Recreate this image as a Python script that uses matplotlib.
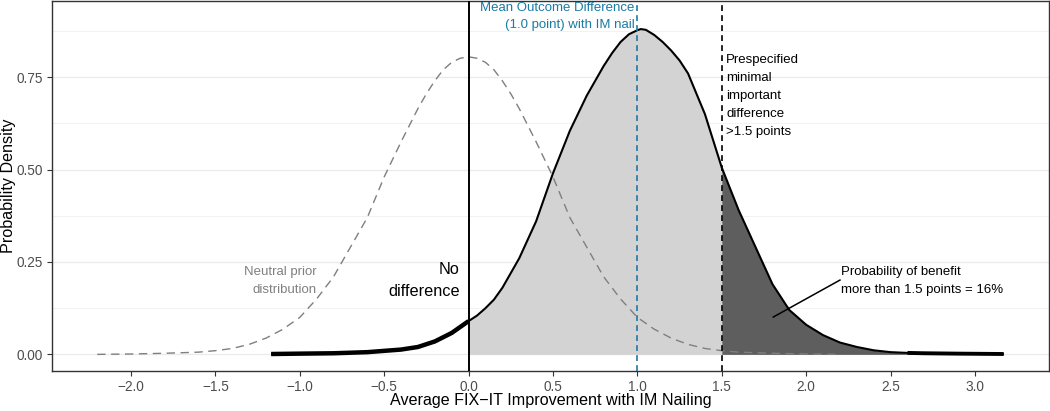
import numpy as np
import matplotlib
matplotlib.use('Agg')
import matplotlib.pyplot as plt

plt.rcParams['font.family'] = ['Liberation Sans', 'DejaVu Sans']

# neutral prior
prior_x = [-2.2, -2.0, -1.8, -1.6, -1.5, -1.4, -1.3, -1.2, -1.1, -1.0, -0.9, -0.8,
           -0.7, -0.6, -0.5, -0.4, -0.3, -0.25, -0.2, -0.15, -0.1, -0.05, 0.0,
           0.05, 0.1, 0.15, 0.2, 0.25, 0.3, 0.4,
           0.5, 0.6, 0.7, 0.8, 0.9, 1.0, 1.1, 1.2, 1.3, 1.4, 1.5, 1.6, 1.8, 2.0, 2.2]
prior_y = [0.000, 0.001, 0.003, 0.006, 0.010, 0.016, 0.027, 0.044, 0.068, 0.100, 0.150, 0.210,
           0.290, 0.370, 0.480, 0.575, 0.665, 0.705, 0.740, 0.770, 0.790, 0.801, 0.805,
           0.801, 0.790, 0.770, 0.740, 0.705, 0.665, 0.575,
           0.480, 0.370, 0.290, 0.210, 0.150, 0.100, 0.068, 0.044, 0.027, 0.016, 0.010, 0.006,
           0.003, 0.001, 0.000]

# posterior density
post_x = [-1.17, -1.0, -0.8, -0.6, -0.4, -0.3, -0.2, -0.1, 0.0, 0.05, 0.1, 0.15, 0.2, 0.3, 0.4,
          0.5, 0.6, 0.7, 0.8, 0.85, 0.9, 0.95, 1.0, 1.02, 1.05, 1.1, 1.15, 1.2, 1.25,
          1.3, 1.4, 1.5, 1.6, 1.7, 1.8, 1.9, 2.0, 2.1, 2.2, 2.3, 2.4, 2.5, 2.6, 2.7, 2.9, 3.17]
post_y = [0.001, 0.002, 0.003, 0.006, 0.013, 0.020, 0.035, 0.058, 0.090, 0.105, 0.125, 0.148, 0.180,
          0.260, 0.360, 0.490, 0.605, 0.700, 0.780, 0.815, 0.845, 0.866, 0.877, 0.880, 0.878, 0.864,
          0.845, 0.822, 0.795, 0.760, 0.650, 0.505, 0.390, 0.290, 0.190, 0.120, 0.080, 0.052, 0.032,
          0.020, 0.011, 0.006, 0.004, 0.003, 0.002, 0.001]

mean_diff = 1.0
mid = 1.5
xticks = [-2.0, -1.5, -1.0, -0.5, 0.0, 0.5, 1.0, 1.5, 2.0, 2.5, 3.0]
yticks = [0.0, 0.25, 0.5, 0.75]

blue = '#1A7BA3'
px = np.array(post_x)
py = np.array(post_y)

fig = plt.figure(figsize=(10.5, 4.11), dpi=100)
ax = fig.add_axes([0.0495, 0.0973, 0.9495, 0.9003])

# grid
for y in yticks:
    ax.axhline(y, color='#EBEBEB', lw=1.0, zorder=0)
for y in [0.125, 0.375, 0.625, 0.875]:
    ax.axhline(y, color='#F2F2F2', lw=0.7, zorder=0)

# shaded regions
ax.fill_between(px, 0, py, where=(px >= 0) & (px <= mid + 1e-9), color='#D3D3D3', lw=0, zorder=1)
ax.fill_between(px, 0, py, where=px >= mid - 1e-9, color='#5E5E5E', lw=0, zorder=1)

# posterior curve, tails drawn thicker
ax.plot(px, py, color='black', lw=1.5, zorder=3, solid_capstyle='butt', solid_joinstyle='round')
lt = px <= 0.0
ax.plot(px[lt], py[lt], color='black', lw=3.2, zorder=3, solid_capstyle='butt')
rt = px >= 2.6
ax.plot(px[rt], py[rt], color='black', lw=2.8, zorder=3, solid_capstyle='butt')

# prior
ax.plot(prior_x, prior_y, color='#7F7F7F', lw=1.0, ls=(0, (6, 4)), zorder=4)

# reference lines
ax.axvline(0, color='black', lw=1.4, zorder=5)
ax.axvline(mean_diff, color=blue, lw=1.2, ls=(0, (3.5, 2.5)), zorder=5)
ax.axvline(mid, color='black', lw=1.2, ls=(0, (3.5, 2.5)), zorder=5)

# annotations
ax.text(0.985, 0.953, 'Mean Outcome Difference\n(1.0 point) with IM nail', color=blue,
        ha='right', va='top', fontsize=9.5, linespacing=1.6)
ax.text(1.525, 0.699, 'Prespecified\nminimal\nimportant\ndifference\n>1.5 points',
        color='black', ha='left', va='center', fontsize=9.5, linespacing=1.65)
ax.text(-0.052, 0.200, 'No\ndifference', color='black', ha='right', va='center',
        fontsize=11.7, linespacing=1.6)
ax.text(-0.90, 0.198, 'Neutral prior\ndistribution', color='#808080', ha='right',
        va='center', fontsize=9.5, linespacing=1.65)
ax.text(2.205, 0.198, 'Probability of benefit\nmore than 1.5 points = 16%', color='black',
        ha='left', va='center', fontsize=9.5, linespacing=1.65)
ax.plot([1.805, 2.2], [0.101, 0.201], color='black', lw=1.1, zorder=6)

ax.set_xlim(-2.468, 3.438)
ax.set_ylim(-0.045, 0.956)
ax.set_xticks(xticks)
ax.set_xticklabels([f'{t:.1f}'.replace('-', '\u2212') for t in xticks])
ax.set_yticks(yticks)
ax.set_yticklabels([f'{t:.2f}' for t in yticks])
ax.tick_params(colors='#333333', labelcolor='#4D4D4D', labelsize=9.8, length=3.6, width=0.8, pad=3)
for s in ax.spines.values():
    s.set_color('#333333')
    s.set_linewidth(1.0)

ax.set_xlabel('Average FIX\u2212IT Improvement with IM Nailing', fontsize=11.6, labelpad=-1)
ax.set_ylabel('Probability Density', fontsize=11.6, labelpad=0)

fig.savefig('out.png', dpi=100)
